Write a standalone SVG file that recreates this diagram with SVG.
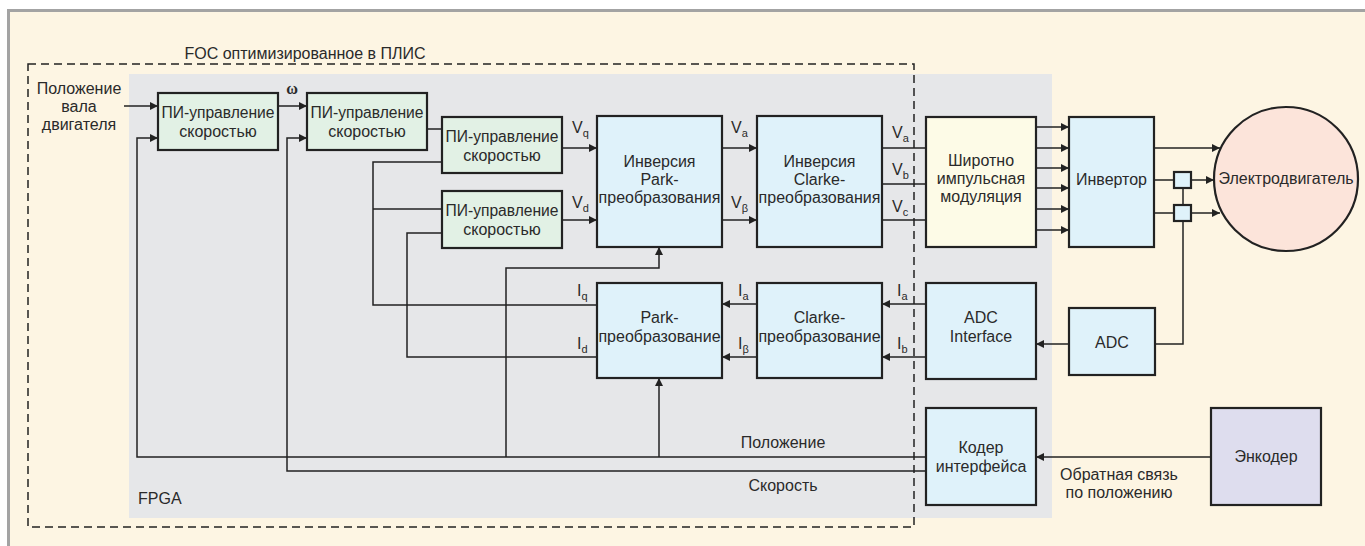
<svg xmlns="http://www.w3.org/2000/svg" width="1365" height="546" viewBox="0 0 1365 546">
<style>
text{font-family:"Liberation Sans",Arial,sans-serif;font-size:16px;fill:#2a2a2a;text-anchor:middle}
.l{text-anchor:start}
.sub{font-size:11px}
.box{stroke:#222;stroke-width:2.2}
.g{fill:#E2F1E5}.b{fill:#DFF2FA}.y{fill:#FDFBE7}.p{fill:#DEDDEE}.m{fill:#FCE4DA}
.c{fill:none;stroke:#222;stroke-width:1.5}
</style>
<defs>
<marker id="a" viewBox="0 0 10 10" refX="10" refY="5" markerWidth="9" markerHeight="8" markerUnits="userSpaceOnUse" orient="auto"><path d="M0 0L10 5L0 10z" fill="#222"/></marker>
</defs>
<rect x="8.5" y="10.5" width="1400" height="560" fill="#FDF5E3" stroke="#A3A3A3" stroke-width="3"/>
<rect x="129" y="74" width="923" height="444" fill="#E6E7E9"/>
<rect x="28" y="64" width="886" height="463" fill="none" stroke="#222" stroke-width="1.5" stroke-dasharray="8 5"/>
<text x="305" y="59">FOC оптимизированное в ПЛИС</text>
<text class="l" x="138" y="504">FPGA</text>
<text x="79" y="94">Положение</text>
<text x="79" y="112">вала</text>
<text x="79" y="130">двигателя</text>
<g id="connectors">
<path class="c" d="M124 106H158" marker-end="url(#a)"/>
<path class="c" d="M278 106H307" marker-end="url(#a)"/>
<path class="c" d="M427 129H442"/>
<path class="c" d="M926 457H137V138H158" marker-end="url(#a)"/>
<path class="c" d="M926 471H287V138H307" marker-end="url(#a)"/>
<path class="c" d="M562 148H597" marker-end="url(#a)"/>
<path class="c" d="M562 220H597" marker-end="url(#a)"/>
<path class="c" d="M597 305H373V162H442"/>
<path class="c" d="M373 209H442"/>
<path class="c" d="M597 357H407V233H442"/>
<path class="c" d="M506 457V268H659V247" marker-end="url(#a)"/>
<path class="c" d="M659 457V378" marker-end="url(#a)"/>
<path class="c" d="M722 148H757" marker-end="url(#a)"/>
<path class="c" d="M722 220H757" marker-end="url(#a)"/>
<path class="c" d="M882 148H926M882 184H926M882 220H926"/>
<path class="c" d="M1036 127H1069" marker-end="url(#a)"/>
<path class="c" d="M1036 148H1069" marker-end="url(#a)"/>
<path class="c" d="M1036 168H1069" marker-end="url(#a)"/>
<path class="c" d="M1036 188H1069" marker-end="url(#a)"/>
<path class="c" d="M1036 209H1069" marker-end="url(#a)"/>
<path class="c" d="M1036 230H1069" marker-end="url(#a)"/>
<path class="c" d="M1154 148H1220" marker-end="url(#a)"/>
<path class="c" d="M1154 180H1174M1154 213H1174"/>
<path class="c" d="M1191 180H1214" marker-end="url(#a)"/>
<path class="c" d="M1191 213H1220" marker-end="url(#a)"/>
<path class="c" d="M1183 188V205M1183 221V344H1155"/>
<path class="c" d="M1069 344H1036" marker-end="url(#a)"/>
<path class="c" d="M926 304H882" marker-end="url(#a)"/>
<path class="c" d="M926 357H882" marker-end="url(#a)"/>
<path class="c" d="M757 304H722" marker-end="url(#a)"/>
<path class="c" d="M757 357H722" marker-end="url(#a)"/>
<path class="c" d="M1211 457H1036" marker-end="url(#a)"/>
</g>
<g id="labels">
<text x="292" y="94" style="font-family:'Liberation Serif',serif;font-size:16px;font-weight:bold">ω</text>
<text class="l" x="572" y="133">V<tspan class="sub" dy="4">q</tspan></text>
<text class="l" x="572" y="208">V<tspan class="sub" dy="4">d</tspan></text>
<text class="l" x="731" y="133">V<tspan class="sub" dy="4">a</tspan></text>
<text class="l" x="731" y="208">V<tspan class="sub" dy="4">β</tspan></text>
<text class="l" x="892" y="138">V<tspan class="sub" dy="4">a</tspan></text>
<text class="l" x="892" y="175">V<tspan class="sub" dy="4">b</tspan></text>
<text class="l" x="892" y="212">V<tspan class="sub" dy="4">c</tspan></text>
<text class="l" x="577" y="296">I<tspan class="sub" dy="4">q</tspan></text>
<text class="l" x="577" y="349">I<tspan class="sub" dy="4">d</tspan></text>
<text class="l" x="738" y="296">I<tspan class="sub" dy="4">a</tspan></text>
<text class="l" x="738" y="349">I<tspan class="sub" dy="4">β</tspan></text>
<text class="l" x="897" y="296">I<tspan class="sub" dy="4">a</tspan></text>
<text class="l" x="897" y="349">I<tspan class="sub" dy="4">b</tspan></text>
<text x="783" y="448">Положение</text>
<text x="783" y="491">Скорость</text>
<text x="1119" y="480">Обратная связь</text>
<text x="1119" y="498">по положению</text>
</g>
<g id="pi1"><rect class="box g" x="158" y="93" width="120" height="57"/><text x="218" y="118" textLength="113" lengthAdjust="spacingAndGlyphs">ПИ-управление</text><text x="218" y="137">скоростью</text></g>
<g id="pi2"><rect class="box g" x="307" y="93" width="120" height="57"/><text x="367" y="118" textLength="113" lengthAdjust="spacingAndGlyphs">ПИ-управление</text><text x="367" y="137">скоростью</text></g>
<g id="pi3"><rect class="box g" x="442" y="117" width="120" height="56"/><text x="502" y="142" textLength="113" lengthAdjust="spacingAndGlyphs">ПИ-управление</text><text x="502" y="161">скоростью</text></g>
<g id="pi4"><rect class="box g" x="442" y="191" width="120" height="57"/><text x="502" y="216" textLength="113" lengthAdjust="spacingAndGlyphs">ПИ-управление</text><text x="502" y="235">скоростью</text></g>
<g id="invpark"><rect class="box b" x="597" y="116" width="125" height="131"/><text x="659.5" y="167">Инверсия</text><text x="659.5" y="185">Park-</text><text x="659.5" y="203">преобразования</text></g>
<g id="invclarke"><rect class="box b" x="757" y="116" width="125" height="131"/><text x="819.5" y="167">Инверсия</text><text x="819.5" y="185">Clarke-</text><text x="819.5" y="203">преобразования</text></g>
<g id="pwm"><rect class="box y" x="926" y="117" width="110" height="130"/><text x="981" y="166">Широтно</text><text x="981" y="184">импульсная</text><text x="981" y="202">модуляция</text></g>
<g id="inverter"><rect class="box b" x="1069" y="117" width="85" height="130"/><text x="1111.5" y="185">Инвертор</text></g>
<g id="motor"><circle class="box m" cx="1286" cy="179" r="72"/><text x="1286" y="184">Электродвигатель</text></g>
<g id="sensor1"><rect class="box b" x="1174" y="172" width="17" height="16"/></g>
<g id="sensor2"><rect class="box b" x="1174" y="205" width="17" height="16"/></g>
<g id="park"><rect class="box b" x="597" y="283" width="125" height="95"/><text x="659.5" y="323">Park-</text><text x="659.5" y="342">преобразование</text></g>
<g id="clarke"><rect class="box b" x="757" y="283" width="125" height="95"/><text x="819.5" y="323">Clarke-</text><text x="819.5" y="342">преобразование</text></g>
<g id="adcif"><rect class="box b" x="926" y="283" width="110" height="96"/><text x="981" y="323">ADC</text><text x="981" y="342">Interface</text></g>
<g id="adc"><rect class="box b" x="1069" y="308" width="86" height="67"/><text x="1112" y="348">ADC</text></g>
<g id="coder"><rect class="box b" x="926" y="408" width="110" height="97"/><text x="981" y="453">Кодер</text><text x="981" y="472">интерфейса</text></g>
<g id="encoder"><rect class="box p" x="1211" y="408" width="110" height="97"/><text x="1266" y="462">Энкодер</text></g>
</svg>
